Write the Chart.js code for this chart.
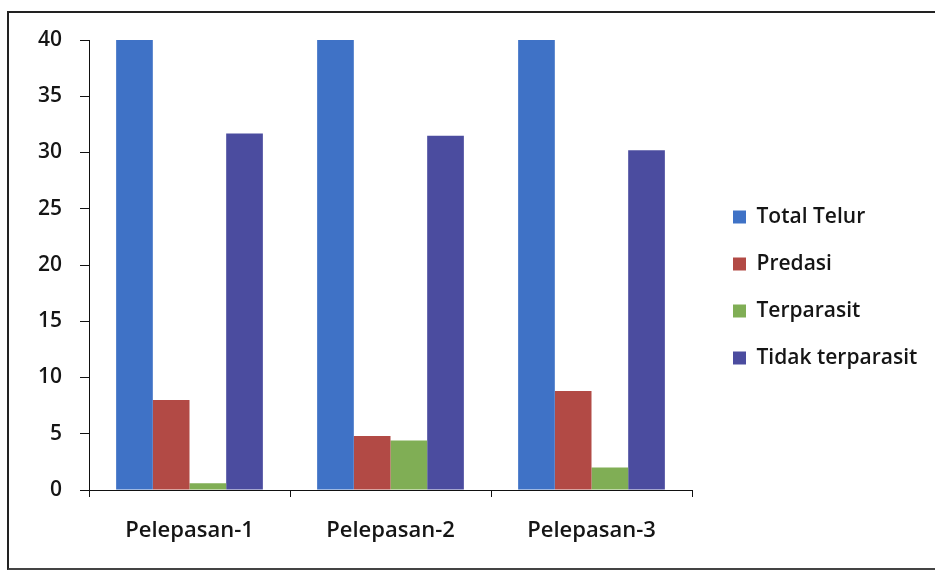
<!DOCTYPE html>
<html>
<head>
<meta charset="utf-8">
<script src="https://cdn.jsdelivr.net/npm/chart.js@4"></script>
<style>
  html, body { margin: 0; padding: 0; background: #fff; }
  #wrap { position: relative; width: 935px; height: 572px; }
  #frame { position: absolute; left: 7px; top: 11px; width: 940px; height: 555px;
           border-left: 2px solid #222; border-top: 2px solid #222; border-bottom: 2px solid #444; }
  canvas { position: absolute; left: 0; top: 0; }
</style>
</head>
<body>
<div id="wrap">
  <div id="frame"></div>
  <canvas id="c" width="935" height="572"></canvas>
</div>
<script>
const categories = ["Pelepasan-1", "Pelepasan-2", "Pelepasan-3"];
const seriesNames = ["Total Telur", "Predasi", "Terparasit", "Tidak terparasit"];
const totalTelur = [40, 40, 40];
const predasi = [8.0, 4.8, 8.8];
const terparasit = [0.6, 4.4, 2.0];
const tidakTerparasit = [31.7, 31.5, 30.2];
const yTicks = [0, 5, 10, 15, 20, 25, 30, 35, 40];

const colors = ["#3F72C6", "#B24A45", "#80AE55", "#4B4C9F"];
const FONT = "'Open Sans', sans-serif";

const legendGap = {
  id: 'legendGap',
  afterInit(chart) {
    const lg = chart.legend;
    const orig = lg.fit.bind(lg);
    lg.fit = function () { orig(); this.width = 935 - 692; };
  },
  afterLayout(chart) {
    chart.legend.left += 15;
    chart.legend.top += 3;
  }
};

new Chart(document.getElementById('c'), {
  type: 'bar',
  data: {
    labels: categories,
    datasets: [totalTelur, predasi, terparasit, tidakTerparasit].map((d, i) => ({
      label: seriesNames[i],
      data: d,
      backgroundColor: colors[i],
      borderWidth: 0,
      categoryPercentage: 0.73,
      barPercentage: 1.0
    }))
  },
  options: {
    responsive: false,
    animation: false,
    layout: { padding: 0 },
    plugins: {
      title: { display: true, text: ' ', padding: 0, font: { size: 10, lineHeight: 4 } },
      tooltip: { enabled: false },
      legend: {
        position: 'right',
        labels: {
          boxWidth: 13, boxHeight: 13, padding: 26,
          color: '#151515',
          font: { family: FONT, size: 21, weight: '600' }
        }
      }
    },
    scales: {
      x: {
        grid: { display: true, drawOnChartArea: false, drawTicks: true, tickLength: 7, color: '#111', offset: true },
        border: { display: true, color: '#111', width: 1 },
        ticks: { color: '#151515', padding: 21, font: { family: FONT, size: 22, weight: '600' } },
        afterFit(s) { s.height = 572 - 490; }
      },
      y: {
        min: 0, max: 40,
        afterBuildTicks(s) { s.ticks = yTicks.map(v => ({ value: v })); },
        grid: { display: true, drawOnChartArea: false, drawTicks: true, tickLength: 9, color: '#111' },
        border: { display: true, color: '#111', width: 1 },
        ticks: { color: '#151515', padding: 18, font: { family: FONT, size: 21, weight: '600' } },
        afterFit(s) { s.width = 89; }
      }
    }
  },
  plugins: [legendGap]
});
</script>
</body>
</html>
